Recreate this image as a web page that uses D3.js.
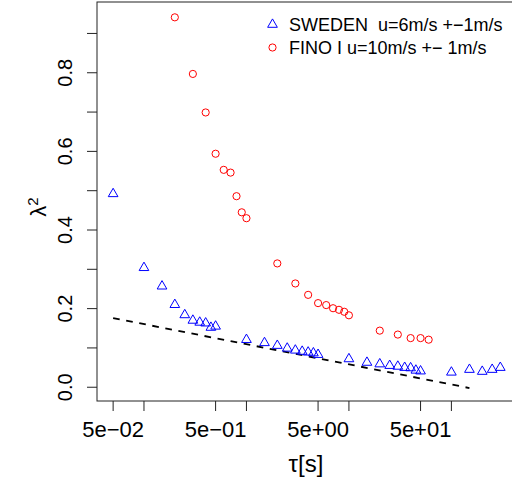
<!DOCTYPE html>
<html>
<head>
<meta charset="utf-8">
<style>
  body { margin: 0; background: #fff; }
  svg { display: block; }
  text { font-family: 'Liberation Sans', Arial, sans-serif; fill: #000; }
  .leg { white-space: pre; }
</style>
</head>
<body>
<svg width="512" height="484"></svg>
<script src="https://cdn.jsdelivr.net/npm/d3@7/dist/d3.min.js"></script>
<script>
// SWEDEN, u = 6 m/s
const tauSweden = [0.05, 0.1, 0.15, 0.2, 0.25, 0.3, 0.35, 0.4, 0.45, 0.5,
  1, 1.5, 2, 2.5, 3, 3.5, 4, 4.5, 5,
  10, 15, 20, 25, 30, 35, 40, 45, 50,
  100, 150, 200, 250, 300];
const lambdaSweden = [0.492, 0.304, 0.257, 0.210, 0.184, 0.170, 0.165, 0.163, 0.152, 0.155,
  0.121, 0.113, 0.106, 0.099, 0.094, 0.091, 0.089, 0.087, 0.083,
  0.072, 0.063, 0.059, 0.055, 0.053, 0.050, 0.049, 0.043, 0.041,
  0.038, 0.045, 0.040, 0.045, 0.050];

// FINO I, u = 10 m/s
const tauFino = [0.2, 0.3, 0.4, 0.5, 0.6, 0.7, 0.8, 0.9, 1,
  2, 3, 4, 5, 6, 7, 8, 9, 10,
  20, 30, 40, 50, 60];
const lambdaFino = [0.941, 0.797, 0.699, 0.594, 0.553, 0.546, 0.486, 0.445, 0.430,
  0.315, 0.264, 0.235, 0.214, 0.209, 0.201, 0.197, 0.192, 0.183,
  0.144, 0.134, 0.125, 0.125, 0.121];

// dashed reference line (end points)
const refTau = [0.05, 150];
const refLambda = [0.176, -0.002];

const xTicks = [0.05, 0.1, 0.5, 1, 5, 10, 50, 100];
const xTickLabels = { 0.05: "5e\u221202", 0.5: "5e\u221201", 5: "5e+00", 50: "5e+01" };
const yTicks = [0, 0.1, 0.2, 0.3, 0.4, 0.5, 0.6, 0.7, 0.8, 0.9];
const yTickLabels = { 0: "0.0", 0.2: "0.2", 0.4: "0.4", 0.6: "0.6", 0.8: "0.8" };

const legendLabels = ["SWEDEN  u=6m/s +\u22121m/s", "FINO I u=10m/s +\u2212 1m/s"];

let svg = d3.select("svg");
svg.append("rect").attr("width", 512).attr("height", 484).attr("fill", "#fff");

let x = d3.scaleLog().domain([0.0348, 427]).range([97, 516]);
let y = d3.scaleLinear().domain([-0.035, 0.98]).range([401, 2]);

let r = 3.6;
function triangle(cx, cy) {
  // R pch=2 geometry
  let h = 1.5551 * r, w = 1.3468 * r;
  return `M${cx},${cy - h}L${cx + w},${cy + h / 2}L${cx - w},${cy + h / 2}Z`;
}

// dashed line
svg.append("line")
  .attr("x1", x(refTau[0])).attr("y1", y(refLambda[0]))
  .attr("x2", x(refTau[1])).attr("y2", y(refLambda[1]))
  .style("stroke", "#000")
  .style("stroke-width", 1.8)
  .style("stroke-dasharray", "6.7,6.6");

// FINO circles
svg.selectAll(".fino")
  .data(tauFino)
  .join("circle")
  .attr("cx", d => x(d))
  .attr("cy", (d, i) => y(lambdaFino[i]))
  .attr("r", r)
  .style("fill", "none")
  .style("stroke", "#ff0000")
  .style("stroke-width", 1);

// SWEDEN triangles
svg.selectAll(".swe")
  .data(tauSweden)
  .join("path")
  .attr("d", (d, i) => triangle(x(d), y(lambdaSweden[i])))
  .style("fill", "none")
  .style("stroke", "#0000ff")
  .style("stroke-width", 1);

// box
svg.append("rect")
  .attr("x", x.range()[0]).attr("y", y.range()[1])
  .attr("width", x.range()[1] - x.range()[0])
  .attr("height", y.range()[0] - y.range()[1])
  .style("fill", "none")
  .style("stroke", "#222")
  .style("stroke-width", 1);

// x axis
let xa = svg.append("g");
xa.selectAll("line")
  .data(xTicks)
  .join("line")
  .attr("x1", d => x(d)).attr("x2", d => x(d))
  .attr("y1", 401).attr("y2", 411)
  .style("stroke", "#222");
xa.selectAll("text")
  .data(xTicks.filter(d => xTickLabels[d]))
  .join("text")
  .attr("x", d => x(d))
  .attr("y", 437)
  .attr("text-anchor", "middle")
  .style("font-size", "22px")
  .text(d => xTickLabels[d]);

// y axis
let ya = svg.append("g");
ya.selectAll("line")
  .data(yTicks)
  .join("line")
  .attr("x1", 87).attr("x2", 97)
  .attr("y1", d => y(d)).attr("y2", d => y(d))
  .style("stroke", "#222");
ya.selectAll("text")
  .data(yTicks.filter(d => yTickLabels[d]))
  .join("text")
  .attr("transform", d => `translate(72,${y(d)}) rotate(-90)`)
  .attr("text-anchor", "middle")
  .style("font-size", "20px")
  .text(d => yTickLabels[d]);

// axis titles
let yl = svg.append("text")
  .attr("transform", "translate(46,207) rotate(-90)")
  .attr("text-anchor", "middle")
  .style("font-size", "22px");
yl.append("tspan").text("\u03bb");
yl.append("tspan").attr("dy", -8).style("font-size", "15px").text("2");

svg.append("text")
  .attr("x", 306).attr("y", 472)
  .attr("text-anchor", "middle")
  .style("font-size", "24px")
  .text("\u03c4[s]");

// legend
let lg = svg.append("g");
lg.append("path")
  .attr("d", triangle(272.5, 24.5))
  .style("fill", "none").style("stroke", "#0000ff");
lg.append("circle")
  .attr("cx", 272.5).attr("cy", 47.5).attr("r", r)
  .style("fill", "none").style("stroke", "#ff0000");
lg.selectAll("text")
  .data(legendLabels)
  .join("text")
  .attr("class", "leg")
  .attr("x", 289)
  .attr("y", (d, i) => 30.7 + i * 23.3)
  .style("font-size", "18px")
  .text(d => d);
</script>
</body>
</html>
